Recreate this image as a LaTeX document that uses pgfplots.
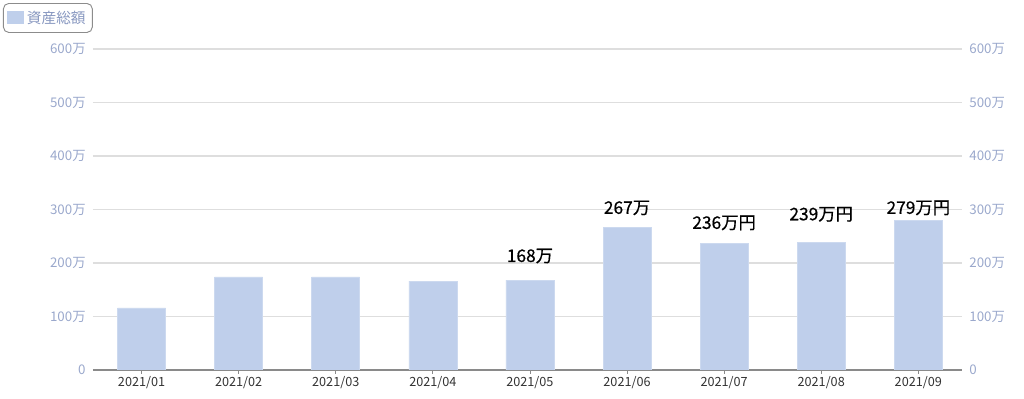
\documentclass[border=0pt]{standalone}
\usepackage{pgfplots}
\pgfplotsset{compat=1.18}
\usepackage{fontspec}
\setmainfont{Noto Sans CJK JP}
\newfontfamily\lab[FakeBold=0.6]{Noto Sans CJK JP}
\definecolor{barc}{HTML}{BFCFEB}
\definecolor{tickc}{HTML}{9AA8CC}
\definecolor{legc}{HTML}{8797C0}
\definecolor{gridc}{HTML}{DEDEDE}
\definecolor{axc}{HTML}{8A8A8A}
\begin{document}
\begin{tikzpicture}
\pgfplotsset{
  common/.style={
    scale only axis, width=651.75pt, height=240.75pt,
    at={(0,0)}, anchor=south west,
    xmin=-0.5, xmax=8.45, ymin=0, ymax=600,
    ytick={0,100,200,300,400,500,600},
    yticklabels={0,100万,200万,300万,400万,500万,600万},
    /pgf/number format/assume math mode=true,
  }
}
\begin{axis}[common,
  hide x axis, axis y line*=left, y axis line style={draw=none},
  ytick style={draw=none},
  ymajorgrids, grid style={gridc, line width=0.8pt},
  yticklabel style={font=\fontsize{10pt}{11pt}\selectfont, text=tickc, xshift=-2pt},
]
\addplot[draw=none] coordinates {(0,0)};
\end{axis}
\begin{axis}[common,
  ybar, bar width=36pt,
  axis x line*=bottom, axis y line=none,
  x axis line style={color=axc, line width=1.4pt, -},
  xtick={0,...,8},
  xticklabels={2021/01,2021/02,2021/03,2021/04,2021/05,2021/06,2021/07,2021/08,2021/09},
  xticklabel style={font=\fontsize{9.5pt}{10pt}\selectfont, text=black!80, yshift=1.5pt},
  x tick style={color=axc, line width=0.6pt},
  tick align=outside, major tick length=3pt,
  legend style={at={(-0.1036,1.1433)}, anchor=north west, draw=black!45, rounded corners=4pt,
    font=\fontsize{11pt}{13pt}\selectfont, text=legc, inner xsep=3pt, inner ysep=3.5pt, line width=0.7pt},
  legend image code/.code={\fill[barc, sharp corners] (0cm,-0.15cm) rectangle (0.42cm,0.17cm);},
]
\addplot[fill=barc, draw=barc!80!white] coordinates {(0,116) (1,174) (2,174) (3,166) (4,168) (5,267) (6,236) (7,239) (8,279)};
\addlegendentry{資産総額}
\node[font=\lab\fontsize{13pt}{15pt}\selectfont] at (axis cs:4,213) {168万};
\node[font=\lab\fontsize{13pt}{15pt}\selectfont] at (axis cs:5,303) {267万};
\node[font=\lab\fontsize{13pt}{15pt}\selectfont] at (axis cs:6,275) {236万円};
\node[font=\lab\fontsize{13pt}{15pt}\selectfont] at (axis cs:7,291) {239万円};
\node[font=\lab\fontsize{13pt}{15pt}\selectfont] at (axis cs:8,303) {279万円};
\end{axis}
\begin{axis}[common,
  hide x axis, axis y line*=right, y axis line style={draw=none},
  ytick style={draw=none},
  yticklabel style={font=\fontsize{10pt}{11pt}\selectfont, text=tickc, xshift=2pt},
]
\addplot[draw=none] coordinates {(0,0)};
\end{axis}
\path[use as bounding box] (-69.75pt,-21.75pt) rectangle (698.25pt,277.5pt);
\end{tikzpicture}
\end{document}
